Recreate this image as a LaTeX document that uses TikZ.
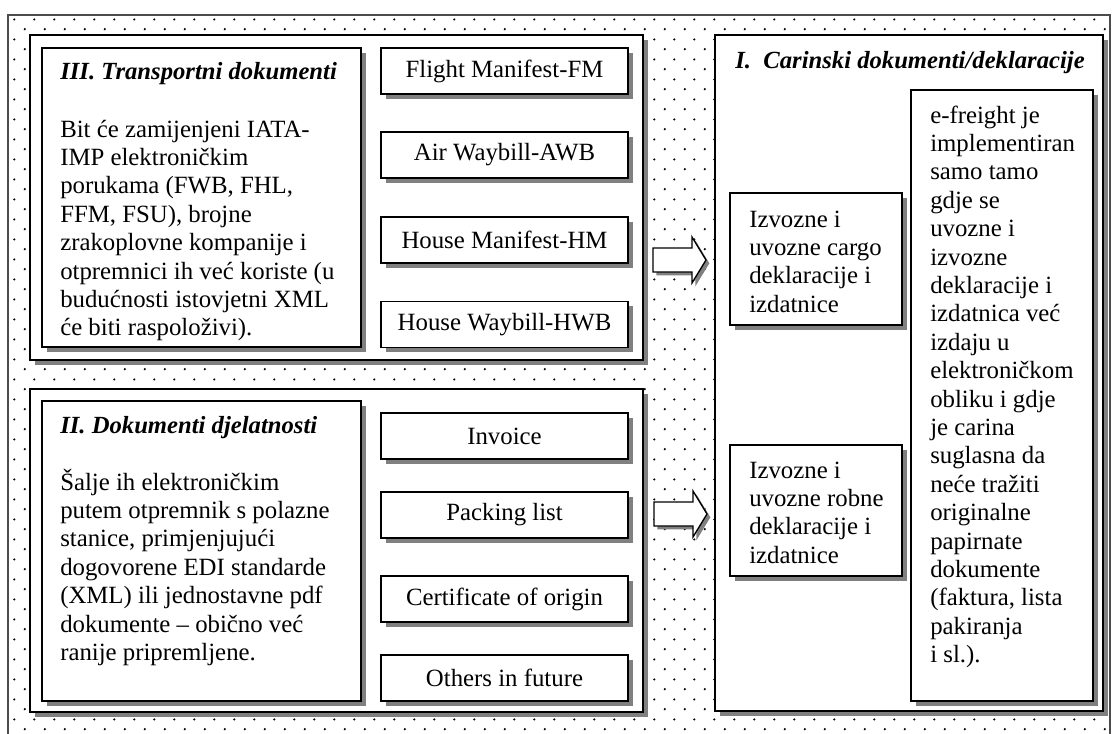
\documentclass[tikz,border=0pt]{standalone}
\usepackage{fontspec}
\setmainfont{Liberation Serif}
\usetikzlibrary{shadows,fit,patterns}

\newcommand\doctxt{\fontsize{18.6}{21.3}\selectfont}
\newcommand\doctitle{\fontsize{18.5}{21.3}\selectfont\bfseries\itshape}

\pgfdeclarepatternformonly{docdots}{\pgfpointorigin}{\pgfpoint{15pt}{15.15pt}}%
  {\pgfpoint{15pt}{15.15pt}}%
  {\pgfpathcircle{\pgfpoint{3.75pt}{3.79pt}}{0.9pt}\pgfusepath{fill}%
   \pgfpathcircle{\pgfpoint{11.25pt}{11.36pt}}{0.9pt}\pgfusepath{fill}}

\begin{document}
\begin{tikzpicture}[x=0.75pt,y=-0.75pt,
  panel/.style={draw=black, line width=1pt, fill=white, inner sep=0pt,
    drop shadow={shadow xshift=3.5pt, shadow yshift=-3.5pt, fill=black!50, opacity=1}},
  docbox/.style={panel, font=\doctxt, minimum width=185.25pt, minimum height=34.5pt},
  txt/.style={font=\doctxt, align=left, anchor=base west, inner sep=0pt},
  blockarrow/.style={draw=black, line width=1pt, fill=white,
    drop shadow={shadow xshift=2.5pt, shadow yshift=-2.5pt, fill=black!50, opacity=1}}]
\useasboundingbox (0,0) rectangle (1113,733);
\fill[white] (0,0) rectangle (1113,733);

% dotted background
\fill[pattern=docdots, pattern color=black] (8,15) rectangle (1110,750);
\draw[black!70, line width=0.8pt] (8,15) rectangle (1110,750);

% panels
\node[panel, fit={(30,35) (643,360)}] (pIII) {};
\node[panel, fit={(30,389) (643,712)}] (pII) {};
\node[panel, fit={(715,35) (1103,711)}] (pI) {};

% III
\node[panel, fit={(42,48) (361,347)}] (bIII) {};
\node[txt, font=\doctitle] (tIII) at (60,79) {III. Transportni dokumenti};
\node[txt] (xIII) at (60,335.8) {Bit će zamijenjeni IATA-\\IMP elektroničkim\\porukama (FWB, FHL,\\FFM, FSU), brojne\\zrakoplovne kompanije i\\otpremnici ih već koriste (u\\budućnosti istovjetni XML\\će biti raspoloživi).};
\node[docbox] (fm) at (504.5,71) {Flight Manifest-FM};
\node[docbox] (awb) at (504.5,155) {Air Waybill-AWB};
\node[docbox] (hm) at (504.5,240) {House Manifest-HM};
\node[docbox] (hwb) at (504.5,324.5) {House Waybill-HWB};

% II
\node[panel, fit={(42,401) (361,701)}] (bII) {};
\node[txt, font=\doctitle] (tII) at (60,433) {II. Dokumenti djelatnosti};
\node[txt] (xII) at (60,660.4) {Šalje ih elektroničkim\\putem otpremnik s polazne\\stanice, primjenjujući\\dogovorene EDI standarde\\(XML) ili jednostavne pdf\\dokumente – obično već\\ranije pripremljene.};
\node[docbox] (inv) at (504.5,436) {Invoice};
\node[docbox] (pack) at (504.5,515) {Packing list};
\node[docbox] (cert) at (504.5,599) {Certificate of origin};
\node[docbox] (oth) at (504.5,678) {Others in future};

% I
\node[txt, font=\doctitle] (tI) at (735,68) {I.\ \ Carinski dokumenti/deklaracije};
\node[panel, fit={(911,90) (1093,701)}] (efr) {};
\node[txt] (xefr) at (930,662.6) {e-freight je\\implementiran\\samo tamo\\gdje se\\uvozne i\\izvozne\\deklaracije i\\izdatnica već\\izdaju u\\elektroničkom\\obliku i gdje\\je carina\\suglasna da\\neće tražiti\\originalne\\papirnate\\dokumente\\(faktura, lista\\pakiranja\\i sl.).};
\node[panel, fit={(730,193) (902,325)}] (cargo) {};
\node[txt] (xcargo) at (749,312.2) {Izvozne i\\uvozne cargo\\deklaracije i\\izdatnice};
\node[panel, fit={(730,445) (902,576)}] (robne) {};
\node[txt] (xrobne) at (749,563.2) {Izvozne i\\uvozne robne\\deklaracije i\\izdatnice};

% arrows
\coordinate (aIII) at (653,260);
\coordinate (aII) at (654,514);
\foreach \a in {aIII,aII}
  \draw[blockarrow] (\a) ++(0,-12) -- ++(39,0) -- ++(0,-11) -- ++(14,23)
    -- ++(-14,23) -- ++(0,-11) -- ++(-39,0) -- cycle;
\end{tikzpicture}
\end{document}
